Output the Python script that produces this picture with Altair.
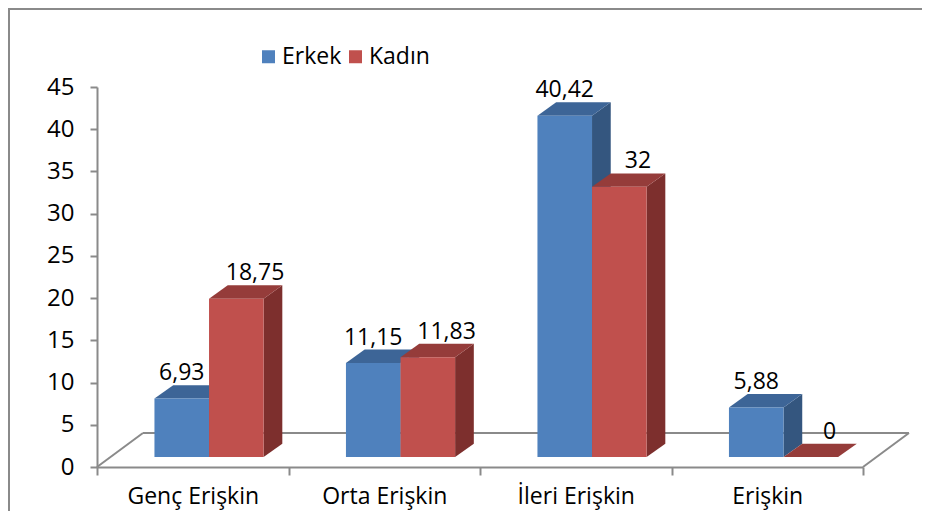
import json
import altair as alt
import pandas as pd

# ---------------- data ----------------
categories = ["Genç Erişkin", "Orta Erişkin", "İleri Erişkin", "Erişkin"]
series = ["Erkek", "Kadın"]
erkek = [6.93, 11.15, 40.42, 5.88]
kadin = [18.75, 11.83, 32, 0]
y_ticks = [0, 5, 10, 15, 20, 25, 30, 35, 40, 45]

# ---------------- styles / geometry (in data units) ----------------
front_colors = ["#4F81BD", "#C0504D"]
top_colors = ["#3D6597", "#953C3A"]
side_colors = ["#34567F", "#7D2F2D"]
GRAY = "#8A8A8A"
FONT = "Open Sans"
FS = 23

BAR_START = 0.30      # first bar starts this far into the category
BAR_W = 0.285         # bar width (category = 1)
DX = 0.0977           # bar depth, x
DY = 1.58             # bar depth, y
BASE = 1.18           # bars sit slightly above the front floor edge
FLOOR_DX = 0.24
FLOOR_DY = 4.03

W, H = 766, 380
PAD = {"left": 89, "top": 79, "right": 59, "bottom": 44}

rows = []
for i, c in enumerate(categories):
    for s, vals in enumerate([erkek, kadin]):
        for k in (0, 1):
            rows.append({"cat": c, "idx": i, "series": series[s], "s": s,
                         "value": vals[i], "k": k, "bar": f"{i}-{s}"})
df = pd.DataFrame(rows)

xs = alt.Scale(domain=[0, 4], nice=False, zero=False)
ys = alt.Scale(domain=[0, 45], nice=False, zero=False)


def col_expr(cols):
    return f"datum.s === 0 ? '{cols[0]}' : '{cols[1]}'"


base = alt.Chart(df).transform_calculate(
    x0=f"datum.idx + {BAR_START} + datum.s * {BAR_W}",
).transform_calculate(
    x1=f"datum.x0 + {BAR_W}",
    yb=f"{BASE}",
    yt=f"datum.value + {BASE}",
    tcol=col_expr(top_colors),
    scol=col_expr(side_colors),
)

cat_js = json.dumps(categories, ensure_ascii=False)
x_vals = [i / 2 for i in range(0, 9)]

x_axis = alt.Axis(
    values=x_vals, title=None, grid=False,
    labelExpr=f"datum.value % 1 === 0.5 ? {cat_js}[floor(datum.value)] : ''",
    tickOpacity={"condition": {"test": "datum.value % 1 !== 0", "value": 0}, "value": 1},
    labelOverlap=False, labelFlush=False, labelBound=False,
    domainColor=GRAY, domainWidth=2, tickColor=GRAY, tickWidth=2, tickSize=8,
    labelFont=FONT, labelFontSize=FS, labelColor="#000000", labelPadding=10,
)
y_axis = alt.Axis(
    values=y_ticks, format="d", title=None, grid=False,
    domainColor=GRAY, domainWidth=2, tickColor=GRAY, tickWidth=2, tickSize=7,
    labelFont=FONT, labelFontSize=FS + 1, labelColor="#000000", labelPadding=16,
)

# floor (3D plane) lines -- first layer carries the axes
floor_back = alt.Chart().mark_rule(color=GRAY, strokeWidth=2).encode(
    x=alt.X(datum=FLOOR_DX, scale=xs, axis=x_axis, title=None),
    x2=alt.X2(datum=4 + FLOOR_DX),
    y=alt.Y(datum=FLOOR_DY, scale=ys, axis=y_axis, title=None),
)
floor_left = alt.Chart().mark_rule(color=GRAY, strokeWidth=2).encode(
    x=alt.X(datum=0, scale=xs, title=None),
    x2=alt.X2(datum=FLOOR_DX),
    y=alt.Y(datum=0, scale=ys, title=None),
    y2=alt.Y2(datum=FLOOR_DY),
)
floor_right = alt.Chart().mark_rule(color=GRAY, strokeWidth=2).encode(
    x=alt.X(datum=4, scale=xs, title=None),
    x2=alt.X2(datum=4 + FLOOR_DX),
    y=alt.Y(datum=0, scale=ys, title=None),
    y2=alt.Y2(datum=FLOOR_DY),
)

# side faces (parallelograms)
side = base.transform_calculate(
    sx=f"datum.x1 + datum.k * {DX}",
    sy=f"datum.yb + datum.k * {DY}",
    sy2=f"datum.yt + datum.k * {DY}",
).mark_area(orient="vertical", interpolate="linear").encode(
    x=alt.X("sx:Q", scale=xs, title=None),
    y=alt.Y("sy2:Q", scale=ys, title=None),
    y2="sy:Q",
    detail="bar:N",
    color=alt.Color("scol:N", scale=None),
)

# top faces
top = base.transform_calculate(
    tx=f"datum.x0 + datum.k * {DX}",
    tx2=f"datum.x1 + datum.k * {DX}",
    ty=f"datum.yt + datum.k * {DY}",
).mark_area(orient="horizontal", interpolate="linear").encode(
    y=alt.Y("ty:Q", scale=ys, title=None),
    x=alt.X("tx:Q", scale=xs, title=None),
    x2="tx2:Q",
    detail="bar:N",
    color=alt.Color("tcol:N", scale=None),
)

front = base.transform_filter("datum.k === 0").mark_bar(strokeWidth=0).encode(
    x=alt.X("x0:Q", scale=xs, title=None),
    x2="x1:Q",
    y=alt.Y("yt:Q", scale=ys, title=None),
    y2="yb:Q",
    color=alt.Color("series:N", scale=alt.Scale(domain=series, range=front_colors),
                    legend=alt.Legend(orient="none", legendX=160, legendY=-42,
                                      direction="horizontal", title=None,
                                      symbolType="square", symbolSize=169,
                                      symbolStrokeWidth=0, symbolOpacity=1,
                                      labelFont=FONT, labelFontSize=FS,
                                      labelColor="#000000", columnPadding=2,
                                      labelOffset=2)),
)

labels = base.transform_filter("datum.k === 0").transform_calculate(
    lx=f"(datum.x0 + datum.x1) / 2 + datum.s * {DX}",
    ly=f"datum.yt + {DY}",
    lab="replace(toString(datum.value), '.', ',')",
).mark_text(font=FONT, fontSize=FS, baseline="bottom", dy=0, color="#000000").encode(
    x=alt.X("lx:Q", scale=xs, title=None),
    y=alt.Y("ly:Q", scale=ys, title=None),
    text="lab:N",
)

# chart-area frame: only its top and left edges fall inside the picture
frame = alt.Chart().mark_rect(fillOpacity=0, stroke=GRAY, strokeWidth=2).encode(
    x=alt.value(-PAD["left"] + 1), x2=alt.value(W + PAD["right"] + 30),
    y=alt.value(-PAD["top"] + 1), y2=alt.value(H + PAD["bottom"] + 30),
)

chart = alt.layer(
    floor_back, floor_left, floor_right, frame,
    side, top, front, labels,
).resolve_scale(color="independent").properties(
    width=W, height=H,
    autosize=alt.AutoSizeParams(type="none"),
    padding=PAD,
).configure(font=FONT).configure_view(strokeWidth=0, stroke="transparent")

chart.save("out.html", embed_options={"renderer": "svg", "actions": False})
